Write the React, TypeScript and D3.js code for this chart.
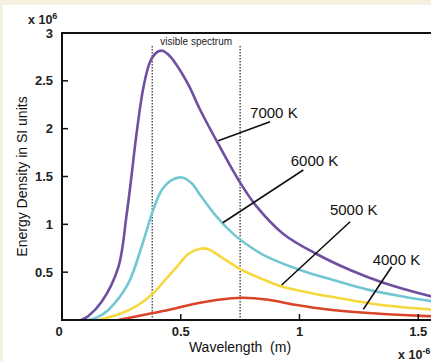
import * as d3 from "d3";

// curves (wavelength in 1e-6 m, energy in 1e6)
const temps = ["7000 K", "6000 K", "5000 K", "4000 K"];
const colors = ["#6f4f9f", "#72c7d3", "#f6d83c", "#d9442b"];

const x7000 = [0.08, 0.11, 0.167, 0.237, 0.272, 0.29, 0.314, 0.342, 0.371, 0.4, 0.422, 0.445, 0.476, 0.532, 0.581, 0.658, 0.749, 0.82, 0.932, 1.072, 1.213, 1.353, 1.549, 1.6];
const y7000 = [0, 0.04, 0.19, 0.55, 1.1, 1.45, 1.95, 2.42, 2.7, 2.8, 2.815, 2.78, 2.69, 2.46, 2.2, 1.84, 1.44, 1.185, 0.9, 0.69, 0.523, 0.39, 0.25, 0.22];

const x6000 = [0.111, 0.15, 0.195, 0.279, 0.335, 0.384, 0.42, 0.462, 0.504, 0.546, 0.581, 0.651, 0.721, 0.792, 0.862, 1.002, 1.142, 1.283, 1.423, 1.549, 1.6];
const y6000 = [0, 0.03, 0.105, 0.383, 0.766, 1.15, 1.359, 1.463, 1.49, 1.43, 1.31, 1.08, 0.9, 0.766, 0.662, 0.523, 0.418, 0.32, 0.25, 0.2, 0.19];

const x5000 = [0.153, 0.251, 0.321, 0.384, 0.434, 0.49, 0.532, 0.581, 0.616, 0.672, 0.757, 0.841, 0.925, 1.051, 1.171, 1.339, 1.549, 1.6];
const y5000 = [0, 0.07, 0.157, 0.279, 0.418, 0.575, 0.69, 0.745, 0.74, 0.655, 0.523, 0.43, 0.35, 0.28, 0.227, 0.16, 0.11, 0.1];

const x4000 = [0.237, 0.378, 0.462, 0.56, 0.658, 0.757, 0.869, 0.981, 1.128, 1.339, 1.549, 1.6];
const y4000 = [0, 0.07, 0.112, 0.17, 0.212, 0.233, 0.212, 0.16, 0.108, 0.065, 0.04, 0.035];

const seriesX = [x7000, x6000, x5000, x4000];
const seriesY = [y7000, y6000, y5000, y4000];

// label anchors and leader lines, in data units
const labelX = [0.792, 0.963, 1.128, 1.308];
const labelY = [2.111, 1.61, 1.098, 0.575];
const leadFrom = [[0.658, 1.874], [0.677, 1.017], [0.925, 0.366], [1.269, 0.112]];
const leadTo = [[0.876, 2.073], [1.016, 1.568], [1.213, 1.027], [1.388, 0.557]];

const xTicks = [0, 0.5, 1, 1.5];
const yTicks = [0.5, 1, 1.5, 2, 2.5, 3];
const visible = [0.38, 0.75];

const W = 431;
const H = 361;
const font = "'Liberation Sans', Arial, sans-serif";

export default function App() {
  const x = d3.scaleLinear().domain([0, 1.6]).range([62, 442]);
  const y = d3.scaleLinear().domain([0, 3]).range([320, 33]);

  const line = d3
    .line<[number, number]>()
    .x((d) => x(d[0]))
    .y((d) => y(d[1]))
    .curve(d3.curveCatmullRom.alpha(0.5));

  return (
    <svg width={W} height={H} style={{ position: "absolute", left: 0, top: 0 }} fontFamily={font}>
      <rect width={W} height={H} fill="#f6f0e1" />
      <rect x={3} y={5} width={W} height={H} fill="#fff" />
      <defs>
        <clipPath id="plot">
          <rect x={x(0)} y={y(3)} width={W} height={y(0) - y(3)} />
        </clipPath>
      </defs>

      {/* visible spectrum */}
      {visible.map((v) => (
        <line key={v} x1={x(v)} x2={x(v)} y1={46} y2={y(0)} stroke="#555" strokeWidth={1.5} strokeDasharray="1.5,1.5" />
      ))}
      <text x={(x(visible[0]) + x(visible[1])) / 2} y={45} fontSize={10} textAnchor="middle" fill="#222">
        visible spectrum
      </text>

      <g clipPath="url(#plot)">
        {seriesX.map((xs, i) => (
          <path
            key={temps[i]}
            d={line(xs.map((v, j) => [v, seriesY[i][j]]) as [number, number][]) || ""}
            fill="none"
            stroke={colors[i]}
            strokeWidth={2.6}
          />
        ))}
      </g>

      {/* labels */}
      {temps.map((t, i) => (
        <g key={t}>
          <line
            x1={x(leadFrom[i][0])}
            y1={y(leadFrom[i][1])}
            x2={x(leadTo[i][0])}
            y2={y(leadTo[i][1])}
            stroke="#111"
            strokeWidth={1.6}
          />
          <text x={x(labelX[i])} y={y(labelY[i])} fontSize={15} fill="#111">
            {t}
          </text>
        </g>
      ))}

      {/* frame */}
      <path d={`M${W},${y(3)}H${x(0)}V${y(0)}H${W}`} fill="none" stroke="#111" strokeWidth={2} />

      {yTicks.slice(0, -1).map((t) => (
        <line key={t} x1={x(0)} x2={x(0) + 6} y1={y(t)} y2={y(t)} stroke="#111" strokeWidth={1.5} />
      ))}
      {xTicks.slice(1).map((t) => (
        <line key={t} x1={x(t)} x2={x(t)} y1={y(0)} y2={y(0) - 6} stroke="#111" strokeWidth={1.5} />
      ))}

      {yTicks.map((t) => (
        <text key={t} x={53} y={y(t) + 4.5} fontSize={13} fontWeight="bold" textAnchor="end" fill="#222">
          {t}
        </text>
      ))}
      {xTicks.map((t) => (
        <text key={t} x={t === 0 ? x(t) - 3 : x(t)} y={336} fontSize={13} fontWeight="bold" textAnchor="middle" fill="#222">
          {t}
        </text>
      ))}

      <text x={28} y={24} fontSize={12.5} fontWeight="bold" fill="#222">
        x 10<tspan dy={-5} fontSize={9}>6</tspan>
      </text>
      <text x={398} y={359} fontSize={12.5} fontWeight="bold" fill="#222">
        x 10<tspan dy={-5} fontSize={9}>-6</tspan>
      </text>

      <text x={240} y={352} fontSize={14} textAnchor="middle" fill="#111" style={{ whiteSpace: "pre" }}>
        {"Wavelength  (m)"}
      </text>
      <text transform={`translate(27,${(y(0) + y(3)) / 2}) rotate(-90)`} fontSize={14} textAnchor="middle" fill="#111">
        Energy Density in SI units
      </text>
    </svg>
  );
}
